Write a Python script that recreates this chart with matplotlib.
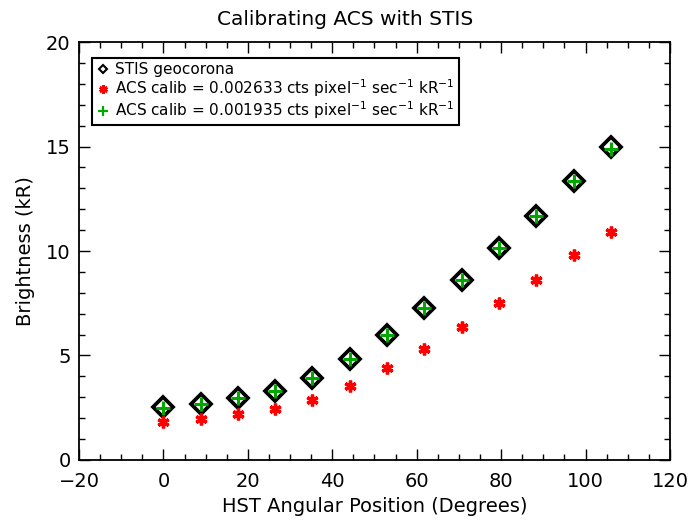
import matplotlib
matplotlib.use("Agg")
import matplotlib.pyplot as plt
from matplotlib.lines import Line2D
from matplotlib.ticker import MultipleLocator

# HST angular position (degrees)
angle = [0.0, 8.8, 17.7, 26.5, 35.3, 44.2, 53.0, 61.8, 70.7, 79.5, 88.3, 97.2, 106.0]

# STIS geocorona brightness (kR)
stis = [2.52, 2.68, 2.97, 3.30, 3.92, 4.83, 5.98, 7.27, 8.61, 10.14, 11.67, 13.35, 14.98]

# ACS scaled with the two calibration factors
acs_a = [1.80, 1.96, 2.20, 2.44, 2.87, 3.54, 4.40, 5.31, 6.36, 7.51, 8.61, 9.81, 10.91]
acs_b = [2.50, 2.67, 2.96, 3.29, 3.91, 4.82, 5.97, 7.25, 8.60, 10.12, 11.66, 13.33, 14.90]

labels = [
    "STIS geocorona",
    r"ACS calib = 0.002633 cts pixel$^{-1}$ sec$^{-1}$ kR$^{-1}$",
    r"ACS calib = 0.001935 cts pixel$^{-1}$ sec$^{-1}$ kR$^{-1}$",
]

green = "#00a800"
asterisk = (6, 2, 0)

fig = plt.figure(figsize=(6.91, 5.22), dpi=100)
ax = fig.add_axes([0.1143, 0.1188, 0.8553, 0.8007])

ax.plot(angle, stis, linestyle="none", marker="D", ms=10, mfc="white",
        mec="black", mew=2.7)
ax.plot(angle, acs_a, linestyle="none", marker=asterisk, ms=8.5, mec="red",
        mew=2.4)
ax.plot(angle, acs_b, linestyle="none", marker="+", ms=10, mec=green, mew=2.2)

ax.set_xlim(-20, 120)
ax.set_ylim(0, 20)
ax.xaxis.set_major_locator(MultipleLocator(20))
ax.xaxis.set_minor_locator(MultipleLocator(5))
ax.yaxis.set_major_locator(MultipleLocator(5))
ax.yaxis.set_minor_locator(MultipleLocator(1))
ax.tick_params(which="both", direction="in", top=True, right=True,
               labelsize=14, width=1)
ax.tick_params(axis="x", pad=9)
ax.tick_params(axis="y", pad=6)
ax.tick_params(which="major", length=8)
ax.tick_params(which="minor", length=4.5)
for s in ax.spines.values():
    s.set_linewidth(1.3)

# title sits in the middle of the whole figure, not the axes
fig.text(0.5, 0.962, "Calibrating ACS with STIS", fontsize=14.5,
         ha="center", va="center")
ax.set_xlabel("HST Angular Position (Degrees)", fontsize=14, labelpad=4)
ax.set_ylabel("Brightness (kR)", fontsize=14, labelpad=8)

handles = [
    Line2D([], [], linestyle="none", marker="D", ms=4.5, mfc="white",
           mec="black", mew=1.5),
    Line2D([], [], linestyle="none", marker=asterisk, ms=6, mec="red",
           mew=2),
    Line2D([], [], linestyle="none", marker="+", ms=6.5, mec=green, mew=1.6),
]
leg = ax.legend(handles, labels, loc="upper left",
                bbox_to_anchor=(0.022, 0.962), borderaxespad=0,
                fontsize=11, fancybox=False, framealpha=1,
                edgecolor="black", labelspacing=0.0, handlelength=0.8,
                handletextpad=0.4, borderpad=0.3)
leg.get_frame().set_linewidth(1.5)

fig.savefig("out.png", dpi=100)
